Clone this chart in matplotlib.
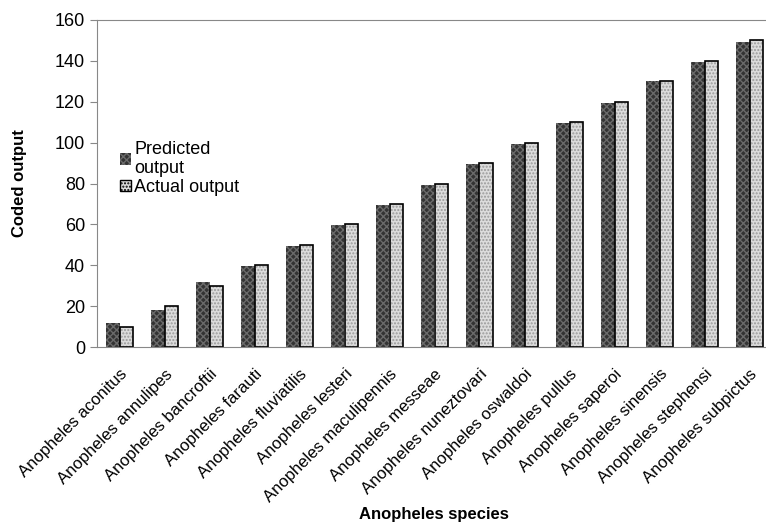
import numpy as np
import matplotlib.pyplot as plt
from matplotlib.patches import Patch

plt.rcParams['font.family'] = ['Liberation Sans', 'DejaVu Sans']

species = ["Anopheles aconitus", "Anopheles annulipes", "Anopheles bancroftii",
           "Anopheles farauti", "Anopheles fluviatilis", "Anopheles lesteri",
           "Anopheles maculipennis", "Anopheles messeae", "Anopheles nuneztovari",
           "Anopheles oswaldoi", "Anopheles pullus", "Anopheles saperoi",
           "Anopheles sinensis", "Anopheles stephensi", "Anopheles subpictus"]
predicted = [11.5, 18, 32, 39.5, 49.5, 59.5, 69.5, 79.5, 89.5, 99.5, 109.5, 119.5, 130, 139.5, 149]
actual = [10, 20, 30, 40, 50, 60, 70, 80, 90, 100, 110, 120, 130, 140, 150]

fig = plt.figure(figsize=(7.66, 5.23), dpi=100)
# axes runs a bit past the right edge, like the cropped original
ax = fig.add_axes([97/766, 1 - 347/523, 675/766, 327/523])

x = np.arange(len(species))
w = 0.31

ax.bar(x - w/2, predicted, w, color='#333333', edgecolor='#6a6a6a', hatch='xxxxx', linewidth=0)
ax.bar(x + w/2, actual, w, color='#dcdcdc', edgecolor='#9a9a9a', hatch='.....', linewidth=0)
ax.bar(x + w/2, actual, w, fill=False, edgecolor='black', linewidth=1.2)

ax.set_xlim(-0.5, len(species) - 0.5)
ax.set_ylim(0, 160)
ax.set_yticks(np.arange(0, 161, 20))
ax.tick_params(axis='y', labelsize=13, color='#888888', length=5)
ax.tick_params(axis='x', length=0, pad=14)
ax.set_xticks(x)
ax.set_xticklabels(species, rotation=45, ha='right', rotation_mode='anchor', fontsize=12)

for s in ['left', 'bottom', 'top']:
    ax.spines[s].set_color('#888888')
ax.spines['right'].set_visible(False)

ax.set_ylabel("Coded output", fontsize=12, fontweight='bold', labelpad=20)
ax.set_xlabel("Anopheles species", fontsize=12, fontweight='bold')
ax.xaxis.set_label_coords(0.499, -0.488)

handles = [Patch(facecolor='#333333', edgecolor='#6a6a6a', hatch='xxxxx', linewidth=0),
           Patch(facecolor='#dcdcdc', edgecolor='black', hatch='.....', linewidth=1)]
ax.legend(handles, ["Predicted\noutput", "Actual output"], loc='upper left',
          bbox_to_anchor=(0.015, 0.67), frameon=False, fontsize=13,
          handlelength=0.6, handleheight=0.6, handletextpad=0.2, labelspacing=0.1,
          borderpad=0.2)

fig.savefig("out.png", dpi=100)
